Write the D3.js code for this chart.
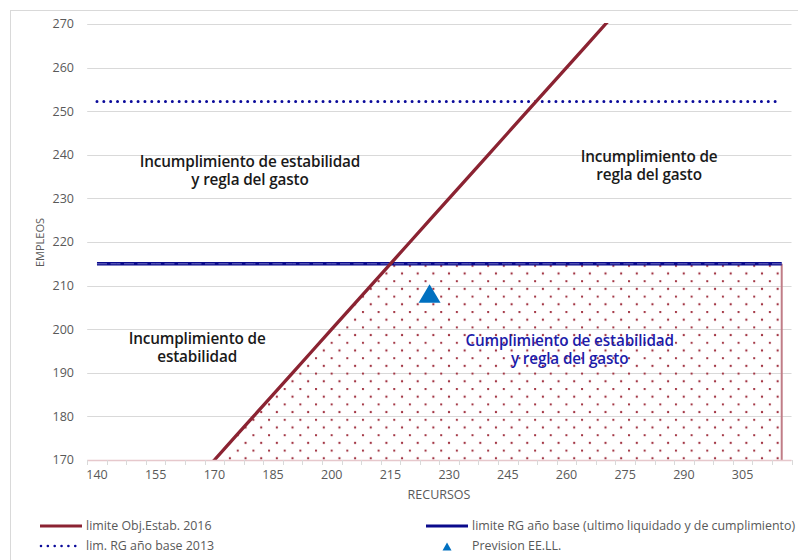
<!DOCTYPE html>
<html><head><meta charset="utf-8">
<script src="https://cdn.jsdelivr.net/npm/d3@7"></script>
<style>body{margin:0;background:#fff}svg{display:block}</style>
</head><body><svg id="c" width="798" height="560"></svg>
<script>
// ---- data ----
const recursos = [140,145,150,155,160,165,170,175,180,185,190,195,200,205,210,215,220,225,230,235,240,245,250,255,260,265,270,275,280,285,290,295,300,305,310,315];
const limiteEstab = [140,145,150,155,160,165,170,175,180,185,190,195,200,205,210,215,220,225,230,235,240,245,250,255,260,265,270,275,280,285,290,295,300,305,310,315];
const limiteRG = [215,215,215,215,215,215,215,215,215,215,215,215,215,215,215,215,215,215,215,215,215,215,215,215,215,215,215,215,215,215,215,215,215,215,215,215];
const limRG2013 = [252.2,252.2,252.2,252.2,252.2,252.2,252.2,252.2,252.2,252.2,252.2,252.2,252.2,252.2,252.2,252.2,252.2,252.2,252.2,252.2,252.2,252.2,252.2,252.2,252.2,252.2,252.2,252.2,252.2,252.2,252.2,252.2,252.2,252.2,252.2,252.2];
const cumplimiento = [140,145,150,155,160,165,170,175,180,185,190,195,200,205,210,215,215,215,215,215,215,215,215,215,215,215,215,215,215,215,215,215,215,215,215,215];
const prevision = [{x:225, y:208}];
const yTicks = [170,180,190,200,210,220,230,240,250,260,270];
const xTickLabels = [140,155,170,185,200,215,230,245,260,275,290,305];
const zoneLabels = [
  {lines:["Incumplimiento de estabilidad","y regla del gasto"], x:179.1, y:237.2, color:"#1a1a1a"},
  {lines:["Incumplimiento de","regla del gasto"], x:281.1, y:238.3, color:"#1a1a1a"},
  {lines:["Incumplimiento de","estabilidad"], x:165.6, y:196.6, color:"#1a1a1a"},
  {lines:["Cumplimiento de estabilidad","y regla del gasto"], x:260.8, y:196.1, color:"#1c1caa"}
];
const legendItems = ["limite  Obj.Estab. 2016","lim. RG año base 2013","limite RG año base (ultimo liquidado y de cumplimiento)","Prevision EE.LL."];

// ---- layout ----
const svg = d3.select("#c");
const x = d3.scaleLinear().domain([137.5, 317.5]).range([87.2, 791.5]);
const y = d3.scaleLinear().domain([170, 270]).range([460, 24]);
const font = "'Open Sans', 'Noto Sans', sans-serif";
const gray = "#595959";

// frame
svg.append("rect").attr("x",10.5).attr("y",10.5).attr("width",800).attr("height",560)
  .attr("fill","none").attr("stroke","#d9d9d9");

// gridlines
svg.append("g").selectAll("line").data(yTicks).join("line")
  .attr("x1", x(137.5)).attr("x2", x(317.5))
  .attr("y1", d=>Math.round(y(d))+0.5).attr("y2", d=>Math.round(y(d))+0.5)
  .attr("stroke","#d9d9d9").attr("stroke-width",1.2);

// y labels
svg.append("g").selectAll("text").data(yTicks).join("text")
  .attr("x",74).attr("y",d=>y(d)).attr("dy","0.35em").attr("text-anchor","end")
  .attr("font-family",font).attr("font-size",12.5).attr("fill",gray).text(d=>d);

// pattern
const defs = svg.append("defs");
const pat = defs.append("pattern").attr("id","dots").attr("patternUnits","userSpaceOnUse")
  .attr("width",15.65).attr("height",15.4).attr("x",2).attr("y",3);
pat.append("circle").attr("cx",1).attr("cy",1).attr("r",1.15).attr("fill","#a0303f");
pat.append("circle").attr("cx",8.8).attr("cy",8.7).attr("r",1.15).attr("fill","#a0303f");
defs.append("clipPath").attr("id","plot").append("rect")
  .attr("x",x(137.5)).attr("y",y(270)-1).attr("width",x(317.5)-x(137.5)).attr("height",y(170)-y(270)+1);

const gp = svg.append("g").attr("clip-path","url(#plot)");
const idx = d3.range(recursos.length);

// area
const area = d3.area().x(i=>x(recursos[i])).y0(y(170)).y1(i=>y(cumplimiento[i]));
gp.append("path").datum(idx).attr("d",area).attr("fill","url(#dots)");
const last = recursos.length-1;
gp.append("line").attr("x1",x(recursos[last])).attr("x2",x(recursos[last]))
  .attr("y1",y(cumplimiento[last])).attr("y2",y(170)).attr("stroke","#c07d87").attr("stroke-width",2);

// x axis line
svg.append("line").attr("x1",x(137.5)).attr("x2",x(317.5)).attr("y1",460.5).attr("y2",460.5)
  .attr("stroke","#e6c8cc").attr("stroke-width",1.5);
const tickPos = d3.range(137.5, 318, 5);
svg.append("g").selectAll("line").data(tickPos).join("line")
  .attr("x1",d=>Math.round(x(d))+0.5).attr("x2",d=>Math.round(x(d))+0.5).attr("y1",460).attr("y2",465)
  .attr("stroke","#d9d9d9");
svg.append("g").selectAll("text").data(xTickLabels).join("text")
  .attr("x",d=>x(d)).attr("y",479).attr("text-anchor","middle")
  .attr("font-family",font).attr("font-size",12.5).attr("fill",gray).text(d=>d);

// dotted 2013 line
const lineOf = arr => d3.line().x(i=>x(recursos[i])).y(i=>y(arr[i]));
gp.append("path").datum(idx).attr("d",lineOf(limRG2013)).attr("fill","none")
  .attr("stroke","#0a0a9a").attr("stroke-width",3).attr("stroke-linecap","round").attr("stroke-dasharray","0,6.85");

// RG line
gp.append("path").datum(idx).attr("d",lineOf(limiteRG)).attr("fill","none")
  .attr("stroke","#0a0a8c").attr("stroke-width",3.5);
gp.append("path").datum(idx).attr("d",lineOf(limiteRG)).attr("fill","none")
  .attr("stroke","#7070c0").attr("stroke-width",1).attr("stroke-dasharray","10,3.5");

// red line
gp.append("path").datum(idx).attr("d",lineOf(limiteEstab)).attr("fill","none")
  .attr("stroke","#8b2332").attr("stroke-width",3.3);

// triangle
svg.append("g").selectAll("path").data(prevision).join("path")
  .attr("transform",d=>`translate(${x(d.x)},${y(d.y)})`)
  .attr("d","M0,-10 L11,8.5 L-11,8.5 Z").attr("fill","#0070c0");

// zone labels
zoneLabels.forEach(z=>{
  const t = svg.append("text").attr("font-family",font).attr("font-size",15.3).attr("font-weight",600)
    .attr("fill",z.color).attr("text-anchor","middle").attr("letter-spacing","-0.15");
  z.lines.forEach((l,k)=>t.append("tspan").attr("x",x(z.x)).attr("y",y(z.y)+k*18).text(l));
});

// axis titles
svg.append("text").attr("x",439).attr("y",499).attr("text-anchor","middle")
  .attr("font-family",font).attr("font-size",12.5).attr("fill",gray).text("RECURSOS");
svg.append("text").attr("transform","translate(43.5,242.5) rotate(-90)").attr("text-anchor","middle")
  .attr("font-family",font).attr("font-size",11).attr("fill",gray).text("EMPLEOS");

// legend
const lg = svg.append("g").attr("font-family",font).attr("font-size",12.4).attr("fill",gray).style("white-space","pre");
lg.append("line").attr("x1",40).attr("x2",82).attr("y1",526).attr("y2",526).attr("stroke","#8b2332").attr("stroke-width",3);
lg.append("text").attr("x",86).attr("y",530).text(legendItems[0]);
lg.append("line").attr("x1",41).attr("x2",80).attr("y1",546).attr("y2",546).attr("stroke","#0a0a9a")
  .attr("stroke-width",2.6).attr("stroke-linecap","round").attr("stroke-dasharray","0,6.85");
lg.append("text").attr("x",86).attr("y",550).text(legendItems[1]);
lg.append("line").attr("x1",426).attr("x2",468).attr("y1",526).attr("y2",526).attr("stroke","#0a0a8c").attr("stroke-width",3);
lg.append("text").attr("x",472).attr("y",530).text(legendItems[2]);
lg.append("path").attr("transform","translate(447,547)").attr("d","M0,-4.5 L4.5,3.5 L-4.5,3.5 Z").attr("fill","#0070c0");
lg.append("text").attr("x",472).attr("y",550).text(legendItems[3]);
</script></body></html>
